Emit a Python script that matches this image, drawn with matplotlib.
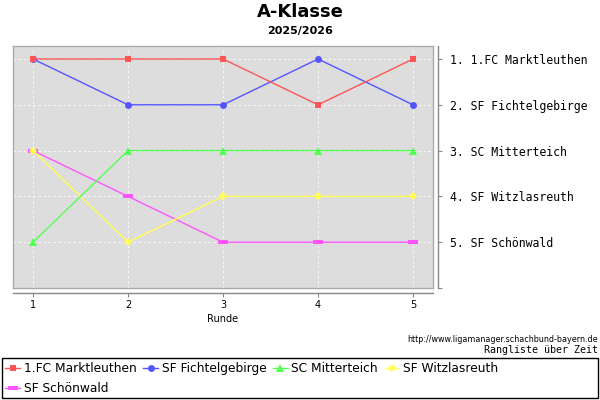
import matplotlib
matplotlib.use("Agg")
import matplotlib.pyplot as plt
from matplotlib.path import Path
from matplotlib.patches import Rectangle

rounds = [1, 2, 3, 4, 5]
teams = ["1.FC Marktleuthen", "SF Fichtelgebirge", "SC Mitterteich", "SF Witzlasreuth", "SF Schönwald"]
marktleuthen = [1, 1, 1, 2, 1]
fichtelgebirge = [1, 2, 2, 1, 2]
mitterteich = [5, 3, 3, 3, 3]
witzlasreuth = [3, 5, 4, 4, 4]
schoenwald = [3, 4, 5, 5, 5]
final_labels = ["1. 1.FC Marktleuthen", "2. SF Fichtelgebirge", "3. SC Mitterteich",
                "4. SF Witzlasreuth", "5. SF Schönwald"]

colors = ["#FF5555", "#5555FF", "#55FF55", "#FFFF55", "#FF55FF"]
rect = Path([(-1, -0.5), (1, -0.5), (1, 0.5), (-1, 0.5), (-1, -0.5)],
            [Path.MOVETO, Path.LINETO, Path.LINETO, Path.LINETO, Path.CLOSEPOLY])
markers = ["s", "o", "^", "D", rect]
msizes = [5, 5, 5.5, 4.2, 6.5]
series = [marktleuthen, fichtelgebirge, mitterteich, witzlasreuth, schoenwald]

W, H = 600, 400
fig = plt.figure(figsize=(6, 4), dpi=100)
pos = [13 / W, 1 - 288 / H, 420 / W, 242 / H]
ax = fig.add_axes(pos)
ax.set_facecolor("#DDDDDD")
for s in ax.spines.values():
    s.set_color("#AAAAAA")
    s.set_linewidth(1)
ax.set_xlim(0.789, 5.21)
ax.set_ylim(6.0, 0.716)
ax.set_xticks(rounds)
ax.set_yticks([1, 2, 3, 4, 5])
ax.tick_params(left=False, bottom=False, labelleft=False, labelbottom=False)
ax.grid(True, color="white", linestyle=(0, (3, 3)), linewidth=0.6, alpha=0.9)
ax.set_axisbelow(True)

lines = []
n = len(teams)
for i, (name, vals, c, m, ms) in enumerate(zip(teams, series, colors, markers, msizes)):
    ln, = ax.plot(rounds, vals, color=c, marker=m, markersize=ms, linewidth=1,
                  markeredgewidth=0, label=name, zorder=3 + (n - i) * 0.1)
    lines.append(ln)

ax2 = fig.add_axes(pos)
ax2.patch.set_visible(False)
ax2.set_xlim(ax.get_xlim())
ax2.set_ylim(ax.get_ylim())
ax2.spines["top"].set_visible(False)
ax2.spines["left"].set_visible(False)
for side in ["bottom", "right"]:
    ax2.spines[side].set_position(("outward", 3.6))
    ax2.spines[side].set_color("#888888")
    ax2.spines[side].set_linewidth(1)
ax2.set_xticks(rounds)
ax2.set_xticklabels([str(r) for r in rounds], fontsize=7)
ax2.set_yticks([1, 2, 3, 4, 5, 6])
ax2.set_yticklabels(final_labels + [""], fontsize=8.3, family="DejaVu Sans Mono")
ax2.yaxis.tick_right()
ax2.tick_params(axis="x", direction="out", length=3, color="#888888", pad=2)
ax2.tick_params(axis="y", direction="out", length=3, color="#888888", pad=6, left=False)
ax2.set_xlabel("Runde", fontsize=7, labelpad=3)

fig.text(0.5, 1 - 12 / H, "A-Klasse", ha="center", va="center", fontsize=13, fontweight="bold")
fig.text(0.5, 1 - 31 / H, "2025/2026", ha="center", va="center", fontsize=8, fontweight="bold")
fig.text(598 / W, 1 - 340 / H, "http://www.ligamanager.schachbund-bayern.de", ha="right",
         va="center", fontsize=5.8)
fig.text(598 / W, 1 - 350 / H, "Rangliste über Zeit", ha="right", va="center",
         fontsize=7.2, family="DejaVu Sans Mono")

fig.patches.append(Rectangle((2 / W, 1 - 398 / H), 596 / W, 40 / H, transform=fig.transFigure,
                             fill=False, edgecolor="black", linewidth=1))
order = [0, 4, 1, 2, 3]
leg = fig.legend([lines[i] for i in order], [teams[i] for i in order], ncol=4,
                 loc="upper left", bbox_to_anchor=(3 / W, 1 - 360 / H), frameon=False,
                 fontsize=8.8, handlelength=1.2, handletextpad=0.3, columnspacing=0.55,
                 labelspacing=0.55, borderpad=0.2, borderaxespad=0)

fig.savefig("out.png", dpi=100)
